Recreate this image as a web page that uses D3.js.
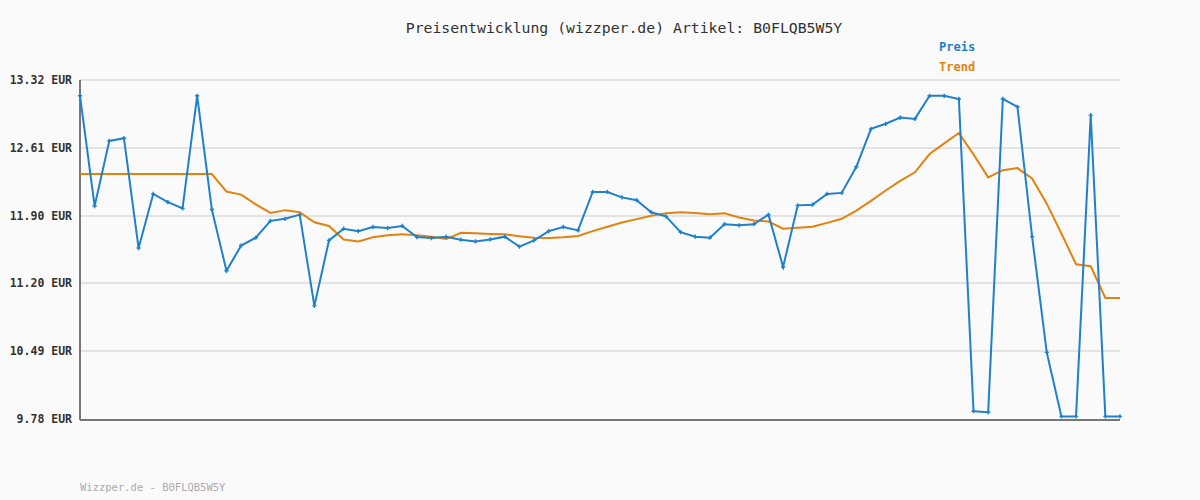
<!DOCTYPE html>
<html><head><meta charset="utf-8">
<script src="https://cdn.jsdelivr.net/npm/d3@7"></script>
<style>body{margin:0;background:#fafafa}</style>
</head><body><svg id="chart"></svg>
<script>
var preis = [13.155,12.004,12.684,12.712,11.565,12.130,12.044,11.979,13.155,11.968,
  11.328,11.591,11.673,11.849,11.871,11.914,10.961,11.645,11.767,11.742,
  11.785,11.774,11.796,11.680,11.670,11.684,11.652,11.634,11.655,11.684,
  11.580,11.645,11.742,11.785,11.749,12.151,12.151,12.094,12.065,11.939,
  11.896,11.731,11.684,11.673,11.814,11.803,11.814,11.914,11.368,12.011,
  12.018,12.130,12.141,12.414,12.810,12.863,12.928,12.914,13.155,13.155,
  13.122,9.861,9.850,13.122,13.040,11.684,10.476,9.807,9.807,12.953,9.807,9.807];
var trend = [12.338,12.338,12.338,12.338,12.338,12.338,12.338,12.338,12.338,12.338,
  12.155,12.123,12.022,11.932,11.961,11.939,11.835,11.796,11.655,11.634,
  11.677,11.698,11.709,11.698,11.684,11.659,11.724,11.720,11.713,11.709,
  11.688,11.673,11.670,11.677,11.691,11.742,11.788,11.831,11.867,11.903,
  11.929,11.939,11.932,11.918,11.929,11.885,11.853,11.842,11.767,11.778,
  11.788,11.828,11.871,11.957,12.058,12.166,12.267,12.356,12.547,12.658,
  12.766,12.543,12.303,12.378,12.400,12.292,12.029,11.717,11.396,11.375,11.044,11.044];
var ticks = [9.78,10.49,11.20,11.90,12.61,13.32];

var width = 1200, height = 500,
    mLeft = 80, mRight = 1120, mTop = 80, mBottom = 419;

var svg = d3.select("svg#chart").attr("width", width).attr("height", height)
    .style("font-family", "'DejaVu Sans Mono', monospace");
svg.append("rect").attr("width", width).attr("height", height).attr("fill", "#fafafa");

var x = d3.scaleLinear().domain([0, preis.length - 1]).range([mLeft, mRight]);
var y = d3.scaleLinear().domain([9.78, 13.32]).range([mBottom, mTop]);

// gitter
svg.selectAll("line.grid").data(ticks.slice(1)).enter().append("line")
    .attr("x1", mLeft).attr("x2", mRight)
    .attr("y1", d => y(d)).attr("y2", d => y(d))
    .attr("stroke", "#e3e3e3").attr("stroke-width", 2);

svg.selectAll("text.tick").data(ticks).enter().append("text")
    .attr("x", 72).attr("y", d => y(d) + 4).attr("text-anchor", "end")
    .attr("font-size", 11.5).attr("font-weight", "bold").attr("fill", "#333")
    .text(d => d.toFixed(2) + " EUR");

svg.append("line").attr("x1", mLeft).attr("x2", mLeft).attr("y1", mTop).attr("y2", mBottom + 1)
    .attr("stroke", "#777").attr("stroke-width", 2);
svg.append("line").attr("x1", mLeft).attr("x2", mRight).attr("y1", mBottom + 1).attr("y2", mBottom + 1)
    .attr("stroke", "#777").attr("stroke-width", 2);

var line = d3.line().x((d, i) => x(i)).y(d => y(d));
svg.append("path").datum(trend).attr("d", line).attr("fill", "none")
    .attr("stroke", "#e3820f").attr("stroke-width", 2);
svg.append("path").datum(preis).attr("d", line).attr("fill", "none")
    .attr("stroke", "#1f80cc").attr("stroke-width", 2);
svg.selectAll("path.pt").data(preis).enter().append("path")
    .attr("d", d3.symbol(d3.symbolCross, 10))
    .attr("transform", (d, i) => "translate(" + x(i) + "," + y(d) + ")")
    .attr("fill", "#1f80cc");

svg.append("text").attr("x", 624).attr("y", 33).attr("text-anchor", "middle")
    .attr("font-size", 14.8).attr("fill", "#333")
    .text("Preisentwicklung (wizzper.de) Artikel: B0FLQB5W5Y");
svg.append("text").attr("x", 939).attr("y", 51).attr("font-size", 12)
    .attr("font-weight", "bold").attr("fill", "#1f80cc").text("Preis");
svg.append("text").attr("x", 939).attr("y", 71).attr("font-size", 12)
    .attr("font-weight", "bold").attr("fill", "#e3820f").text("Trend");
svg.append("text").attr("x", 80).attr("y", 491).attr("font-size", 10.5)
    .attr("fill", "#aaa").text("Wizzper.de - B0FLQB5W5Y");
</script></body></html>
